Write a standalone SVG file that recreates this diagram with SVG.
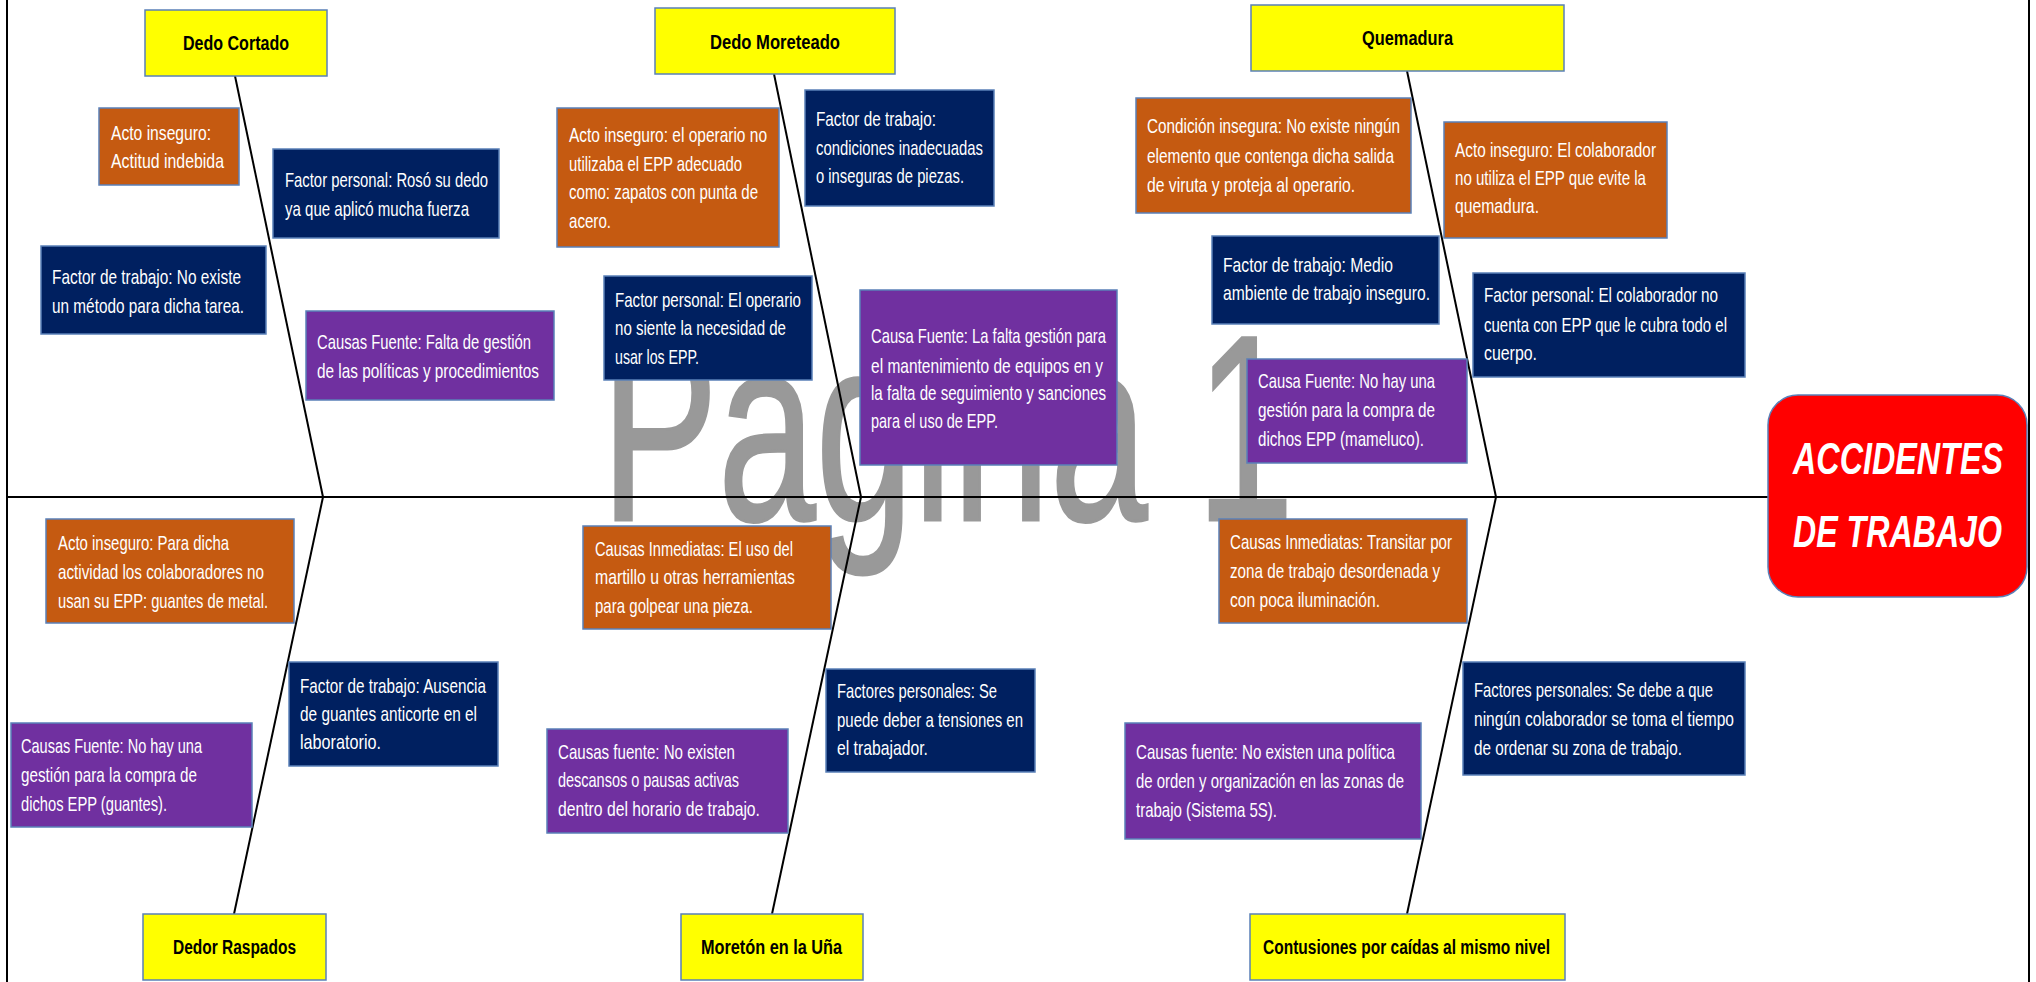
<svg xmlns="http://www.w3.org/2000/svg" width="2036" height="982" viewBox="0 0 2036 982">
<style>
.bx{stroke:#5a80b8;stroke-width:1.5}
.or{fill:#C55A11}
.nv{fill:#002060}
.pu{fill:#7030A0}
.ye{fill:#FFFF00}
.t{font-family:"Liberation Sans",Arial,sans-serif;font-size:21px;fill:#ffffff}
.h{font-family:"Liberation Sans",Arial,sans-serif;font-size:20px;font-weight:bold;fill:#000000}
.ln{stroke:#000;stroke-width:2;fill:none}
</style>
<rect x="0" y="0" width="2036" height="982" fill="#ffffff"/>
<text x="601" y="520" font-family="Liberation Sans, Arial, sans-serif" font-size="265" fill="#999999" stroke="#999999" stroke-width="3" textLength="693" lengthAdjust="spacingAndGlyphs">Pagina 1</text>
<g id="connectors">
<line class="ln" x1="7" y1="0" x2="7" y2="982" stroke-width="3"/>
<line class="ln" x1="2029" y1="0" x2="2029" y2="982" stroke-width="3"/>
<line class="ln" x1="7" y1="497" x2="1768" y2="497" stroke-width="3"/>
<line class="ln" x1="235" y1="76" x2="323" y2="497"/>
<line class="ln" x1="774" y1="74" x2="861" y2="497"/>
<line class="ln" x1="1407" y1="71" x2="1496" y2="497"/>
<line class="ln" x1="323" y1="497" x2="234" y2="914"/>
<line class="ln" x1="861" y1="497" x2="772" y2="914"/>
<line class="ln" x1="1496" y1="497" x2="1407" y2="914"/>
</g>
<g id="head">
<rect x="1768" y="395" width="259" height="202" rx="30" fill="#FF0000" stroke="#5a80b8" stroke-width="1.5"/>
<text x="1793" y="474" font-family="Liberation Sans, Arial, sans-serif" font-size="44" font-weight="bold" font-style="italic" fill="#fff" textLength="210" lengthAdjust="spacingAndGlyphs">ACCIDENTES</text>
<text x="1793" y="547" font-family="Liberation Sans, Arial, sans-serif" font-size="44" font-weight="bold" font-style="italic" fill="#fff" textLength="209" lengthAdjust="spacingAndGlyphs">DE TRABAJO</text>
</g>
<g id="cat-dedo-cortado"><rect class="bx ye" x="145" y="10" width="182" height="66"/><text class="h" x="183" y="50" textLength="106" lengthAdjust="spacingAndGlyphs">Dedo Cortado</text></g>
<g id="cat-dedo-moreteado"><rect class="bx ye" x="655" y="8" width="240" height="66"/><text class="h" x="710" y="49" textLength="130" lengthAdjust="spacingAndGlyphs">Dedo Moreteado</text></g>
<g id="cat-quemadura"><rect class="bx ye" x="1251" y="5" width="313" height="66"/><text class="h" x="1362" y="45" textLength="91" lengthAdjust="spacingAndGlyphs">Quemadura</text></g>
<g id="cat-dedor-raspados"><rect class="bx ye" x="143" y="914" width="183" height="66"/><text class="h" x="173" y="954" textLength="123" lengthAdjust="spacingAndGlyphs">Dedor Raspados</text></g>
<g id="cat-moreton"><rect class="bx ye" x="681" y="914" width="182" height="66"/><text class="h" x="701" y="954" textLength="141" lengthAdjust="spacingAndGlyphs">Moretón en la Uña</text></g>
<g id="cat-contusiones"><rect class="bx ye" x="1250" y="914" width="315" height="66"/><text class="h" x="1263" y="954" textLength="287" lengthAdjust="spacingAndGlyphs">Contusiones por caídas al mismo nivel</text></g>

<g id="c1-acto"><rect class="bx or" x="99" y="108" width="140" height="77"/>
<text class="t" x="111" y="140" textLength="100" lengthAdjust="spacingAndGlyphs">Acto inseguro:</text>
<text class="t" x="111" y="168" textLength="113" lengthAdjust="spacingAndGlyphs">Actitud indebida</text></g>
<g id="c1-personal"><rect class="bx nv" x="273" y="149" width="226" height="89"/>
<text class="t" x="285" y="187" textLength="203" lengthAdjust="spacingAndGlyphs">Factor personal: Rosó su dedo</text>
<text class="t" x="285" y="216" textLength="184" lengthAdjust="spacingAndGlyphs">ya que aplicó mucha fuerza</text></g>
<g id="c1-trabajo"><rect class="bx nv" x="41" y="246" width="225" height="88"/>
<text class="t" x="52" y="284" textLength="189" lengthAdjust="spacingAndGlyphs">Factor de trabajo: No existe</text>
<text class="t" x="52" y="313" textLength="192" lengthAdjust="spacingAndGlyphs">un método para dicha tarea.</text></g>
<g id="c1-fuente"><rect class="bx pu" x="306" y="311" width="248" height="89"/>
<text class="t" x="317" y="349" textLength="214" lengthAdjust="spacingAndGlyphs">Causas Fuente: Falta de gestión</text>
<text class="t" x="317" y="378" textLength="222" lengthAdjust="spacingAndGlyphs">de las políticas y procedimientos</text></g>

<g id="c2-acto"><rect class="bx or" x="557" y="108" width="222" height="139"/>
<text class="t" x="569" y="142" textLength="198" lengthAdjust="spacingAndGlyphs">Acto inseguro: el operario no</text>
<text class="t" x="569" y="171" textLength="173" lengthAdjust="spacingAndGlyphs">utilizaba el EPP adecuado</text>
<text class="t" x="569" y="199" textLength="189" lengthAdjust="spacingAndGlyphs">como: zapatos con punta de</text>
<text class="t" x="569" y="228" textLength="42" lengthAdjust="spacingAndGlyphs">acero.</text></g>
<g id="c2-trabajo"><rect class="bx nv" x="805" y="90" width="189" height="116"/>
<text class="t" x="816" y="126" textLength="120" lengthAdjust="spacingAndGlyphs">Factor de trabajo:</text>
<text class="t" x="816" y="155" textLength="167" lengthAdjust="spacingAndGlyphs">condiciones inadecuadas</text>
<text class="t" x="816" y="183" textLength="148" lengthAdjust="spacingAndGlyphs">o inseguras de piezas.</text></g>
<g id="c2-personal"><rect class="bx nv" x="604" y="276" width="208" height="104"/>
<text class="t" x="615" y="307" textLength="186" lengthAdjust="spacingAndGlyphs">Factor personal: El operario</text>
<text class="t" x="615" y="335" textLength="171" lengthAdjust="spacingAndGlyphs">no siente la necesidad de</text>
<text class="t" x="615" y="364" textLength="84" lengthAdjust="spacingAndGlyphs">usar los EPP.</text></g>
<g id="c2-fuente"><rect class="bx pu" x="860" y="290" width="257" height="175"/>
<text class="t" x="871" y="343" textLength="235" lengthAdjust="spacingAndGlyphs">Causa Fuente: La falta gestión para</text>
<text class="t" x="871" y="373" textLength="232" lengthAdjust="spacingAndGlyphs">el mantenimiento de equipos en y</text>
<text class="t" x="871" y="400" textLength="235" lengthAdjust="spacingAndGlyphs">la falta de seguimiento y sanciones</text>
<text class="t" x="871" y="428" textLength="127" lengthAdjust="spacingAndGlyphs">para el uso de EPP.</text></g>

<g id="c3-condicion"><rect class="bx or" x="1136" y="98" width="275" height="115"/>
<text class="t" x="1147" y="133" textLength="253" lengthAdjust="spacingAndGlyphs">Condición insegura: No existe ningún</text>
<text class="t" x="1147" y="163" textLength="247" lengthAdjust="spacingAndGlyphs">elemento que contenga dicha salida</text>
<text class="t" x="1147" y="192" textLength="208" lengthAdjust="spacingAndGlyphs">de viruta y proteja al operario.</text></g>
<g id="c3-acto"><rect class="bx or" x="1444" y="122" width="223" height="116"/>
<text class="t" x="1455" y="157" textLength="201" lengthAdjust="spacingAndGlyphs">Acto inseguro: El colaborador</text>
<text class="t" x="1455" y="185" textLength="191" lengthAdjust="spacingAndGlyphs">no utiliza el EPP que evite la</text>
<text class="t" x="1455" y="213" textLength="84" lengthAdjust="spacingAndGlyphs">quemadura.</text></g>
<g id="c3-trabajo"><rect class="bx nv" x="1212" y="236" width="227" height="88"/>
<text class="t" x="1223" y="272" textLength="170" lengthAdjust="spacingAndGlyphs">Factor de trabajo: Medio</text>
<text class="t" x="1223" y="300" textLength="207" lengthAdjust="spacingAndGlyphs">ambiente de trabajo inseguro.</text></g>
<g id="c3-personal"><rect class="bx nv" x="1473" y="273" width="272" height="104"/>
<text class="t" x="1484" y="302" textLength="234" lengthAdjust="spacingAndGlyphs">Factor personal: El colaborador no</text>
<text class="t" x="1484" y="332" textLength="243" lengthAdjust="spacingAndGlyphs">cuenta con EPP que le cubra todo el</text>
<text class="t" x="1484" y="360" textLength="53" lengthAdjust="spacingAndGlyphs">cuerpo.</text></g>
<g id="c3-fuente"><rect class="bx pu" x="1247" y="359" width="220" height="104"/>
<text class="t" x="1258" y="388" textLength="177" lengthAdjust="spacingAndGlyphs">Causa Fuente: No hay una</text>
<text class="t" x="1258" y="417" textLength="177" lengthAdjust="spacingAndGlyphs">gestión para la compra de</text>
<text class="t" x="1258" y="446" textLength="166" lengthAdjust="spacingAndGlyphs">dichos EPP (mameluco).</text></g>

<g id="c4-acto"><rect class="bx or" x="46" y="519" width="248" height="104"/>
<text class="t" x="58" y="550" textLength="171" lengthAdjust="spacingAndGlyphs">Acto inseguro: Para dicha</text>
<text class="t" x="58" y="579" textLength="206" lengthAdjust="spacingAndGlyphs">actividad los colaboradores no</text>
<text class="t" x="58" y="608" textLength="210" lengthAdjust="spacingAndGlyphs">usan su EPP: guantes de metal.</text></g>
<g id="c4-trabajo"><rect class="bx nv" x="289" y="662" width="209" height="104"/>
<text class="t" x="300" y="693" textLength="186" lengthAdjust="spacingAndGlyphs">Factor de trabajo: Ausencia</text>
<text class="t" x="300" y="721" textLength="177" lengthAdjust="spacingAndGlyphs">de guantes anticorte en el</text>
<text class="t" x="300" y="749" textLength="81" lengthAdjust="spacingAndGlyphs">laboratorio.</text></g>
<g id="c4-fuente"><rect class="bx pu" x="11" y="723" width="241" height="104"/>
<text class="t" x="21" y="753" textLength="181" lengthAdjust="spacingAndGlyphs">Causas Fuente: No hay una</text>
<text class="t" x="21" y="782" textLength="176" lengthAdjust="spacingAndGlyphs">gestión para la compra de</text>
<text class="t" x="21" y="811" textLength="146" lengthAdjust="spacingAndGlyphs">dichos EPP (guantes).</text></g>

<g id="c5-inmediatas"><rect class="bx or" x="583" y="526" width="248" height="103"/>
<text class="t" x="595" y="556" textLength="198" lengthAdjust="spacingAndGlyphs">Causas Inmediatas: El uso del</text>
<text class="t" x="595" y="584" textLength="200" lengthAdjust="spacingAndGlyphs">martillo u otras herramientas</text>
<text class="t" x="595" y="613" textLength="158" lengthAdjust="spacingAndGlyphs">para golpear una pieza.</text></g>
<g id="c5-personales"><rect class="bx nv" x="826" y="669" width="209" height="103"/>
<text class="t" x="837" y="698" textLength="160" lengthAdjust="spacingAndGlyphs">Factores personales: Se</text>
<text class="t" x="837" y="727" textLength="186" lengthAdjust="spacingAndGlyphs">puede deber a tensiones en</text>
<text class="t" x="837" y="755" textLength="91" lengthAdjust="spacingAndGlyphs">el trabajador.</text></g>
<g id="c5-fuente"><rect class="bx pu" x="547" y="729" width="241" height="104"/>
<text class="t" x="558" y="759" textLength="177" lengthAdjust="spacingAndGlyphs">Causas fuente: No existen</text>
<text class="t" x="558" y="787" textLength="181" lengthAdjust="spacingAndGlyphs">descansos o pausas activas</text>
<text class="t" x="558" y="816" textLength="202" lengthAdjust="spacingAndGlyphs">dentro del horario de trabajo.</text></g>

<g id="c6-inmediatas"><rect class="bx or" x="1219" y="519" width="248" height="104"/>
<text class="t" x="1230" y="549" textLength="222" lengthAdjust="spacingAndGlyphs">Causas Inmediatas: Transitar por</text>
<text class="t" x="1230" y="578" textLength="210" lengthAdjust="spacingAndGlyphs">zona de trabajo desordenada y</text>
<text class="t" x="1230" y="607" textLength="150" lengthAdjust="spacingAndGlyphs">con poca iluminación.</text></g>
<g id="c6-personales"><rect class="bx nv" x="1463" y="662" width="282" height="113"/>
<text class="t" x="1474" y="697" textLength="239" lengthAdjust="spacingAndGlyphs">Factores personales: Se debe a que</text>
<text class="t" x="1474" y="726" textLength="260" lengthAdjust="spacingAndGlyphs">ningún colaborador se toma el tiempo</text>
<text class="t" x="1474" y="755" textLength="208" lengthAdjust="spacingAndGlyphs">de ordenar su zona de trabajo.</text></g>
<g id="c6-fuente"><rect class="bx pu" x="1125" y="723" width="296" height="116"/>
<text class="t" x="1136" y="759" textLength="259" lengthAdjust="spacingAndGlyphs">Causas fuente: No existen una política</text>
<text class="t" x="1136" y="788" textLength="268" lengthAdjust="spacingAndGlyphs">de orden y organización en las zonas de</text>
<text class="t" x="1136" y="817" textLength="141" lengthAdjust="spacingAndGlyphs">trabajo (Sistema 5S).</text></g>
</svg>
